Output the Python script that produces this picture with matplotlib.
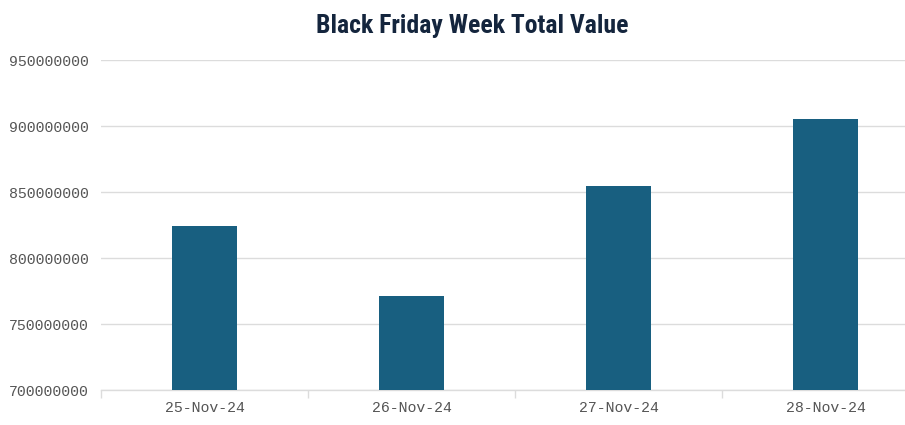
import matplotlib
matplotlib.use("Agg")
import matplotlib.pyplot as plt
from matplotlib.ticker import FixedLocator, NullFormatter

dates = ['25-Nov-24', '26-Nov-24', '27-Nov-24', '28-Nov-24']
total_value = [824500000, 771400000, 854800000, 905500000]
y_ticks = [700000000, 750000000, 800000000, 850000000, 900000000, 950000000]

bar_color = '#185f80'
grid_color = '#dcdcdc'
label_color = '#555555'

fig = plt.figure(figsize=(9.05, 4.25), dpi=100)
# plot area runs a little past the right edge of the image, like the original
ax = fig.add_axes([101 / 905, 1 - 390 / 425, 828 / 905, 330 / 425])

x = range(len(dates))
ax.bar(x, total_value, width=0.314, color=bar_color, zorder=3)

ax.set_xlim(-0.5, len(dates) - 0.5)
ax.set_ylim(y_ticks[0], y_ticks[-1])
ax.set_yticks(y_ticks)
ax.set_yticklabels([str(v) for v in y_ticks])
ax.set_xticks(list(x))
ax.set_xticklabels(dates)

# category boundary ticks below the axis
ax.xaxis.set_minor_locator(FixedLocator([i - 0.5 for i in range(len(dates) + 1)]))
ax.xaxis.set_minor_formatter(NullFormatter())
ax.tick_params(axis='x', which='major', length=0, pad=8)
ax.tick_params(axis='x', which='minor', length=6, color=grid_color, width=1)
ax.tick_params(axis='y', length=0, pad=9)

for lbl in ax.get_xticklabels() + ax.get_yticklabels():
    lbl.set_family(['Liberation Mono', 'DejaVu Sans Mono'])
    lbl.set_fontsize(10.7)
    lbl.set_color(label_color)

ax.grid(axis='y', color=grid_color, linewidth=1, zorder=0)
for side in ['top', 'right', 'left']:
    ax.spines[side].set_visible(False)
ax.spines['bottom'].set_color(grid_color)
ax.spines['bottom'].set_linewidth(1)

fig.text(472 / 905, 1 - 26 / 425, 'Black Friday Week Total Value',
         ha='center', va='center', fontsize=18.5, fontweight='bold',
         color='#14253d',
         family=['Liberation Sans Narrow', 'Roboto Condensed', 'Liberation Sans'])

fig.savefig('out.png', dpi=100)
